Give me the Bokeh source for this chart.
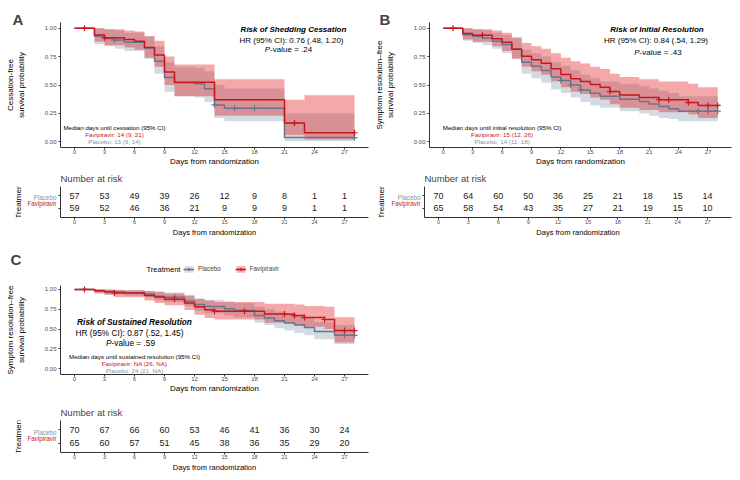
import math
from bokeh.plotting import figure
from bokeh.models import (ColumnDataSource, Range1d, FixedTicker, PrintfTickFormatter,
                          Label, Legend, LegendItem)
from bokeh.layouts import column, row
from bokeh.embed import file_html
from bokeh.resources import INLINE
from bokeh.core.properties import value

FONT = "Liberation Sans"
RED = "#c8161d"
RED_FILL = "#e31a1c"
PBO_LINE = "#66768a"
PBO_TEXT = "#8094a9"
PBO_FILL = "#8fa2b6"
AXIS_COL = "#333333"
TICK_TXT = "#4d4d4d"
NAN = float("nan")

# ---------------- data ----------------
DAY_TICKS = [0, 3, 6, 9, 12, 15, 18, 21, 24, 27]
SURV_TICKS = [0.0, 0.25, 0.50, 0.75, 1.0]
GROUPS = ["Placebo", "Favipiravir"]

# Panel A - shedding cessation
A_PBO_TIME = [0, 2, 3, 4, 5, 7, 8, 9, 10, 12, 13, 14, 15, 21, 28]
A_PBO_SURV = [1.0, 0.93, 0.91, 0.895, 0.877, 0.825, 0.71, 0.565, 0.52, 0.51, 0.467, 0.325, 0.295, 0.037, 0.037]
A_PBO_LOW = [1.0, 0.86, 0.84, 0.82, 0.80, 0.73, 0.60, 0.44, 0.40, 0.39, 0.35, 0.21, 0.18, 0.005, 0.005]
A_PBO_UPP = [1.0, 1.0, 0.99, 0.98, 0.96, 0.93, 0.84, 0.70, 0.66, 0.65, 0.62, 0.50, 0.47, 0.25, 0.25]
A_PBO_CENS = [4, 14, 16, 18, 28]
A_FAV_TIME = [0, 2, 3, 5, 6, 7, 8, 9, 10, 14, 21, 23, 28]
A_FAV_SURV = [1.0, 0.94, 0.915, 0.90, 0.885, 0.83, 0.765, 0.615, 0.525, 0.37, 0.165, 0.08, 0.08]
A_FAV_LOW = [1.0, 0.88, 0.85, 0.83, 0.81, 0.74, 0.66, 0.50, 0.40, 0.23, 0.06, 0.02, 0.02]
A_FAV_UPP = [1.0, 1.0, 0.99, 0.98, 0.97, 0.93, 0.89, 0.75, 0.68, 0.55, 0.37, 0.41, 0.41]
A_FAV_CENS = [1, 3, 22, 28]
A_RISK_PBO = [57, 53, 49, 39, 26, 12, 9, 8, 1, 1]
A_RISK_FAV = [59, 52, 46, 36, 21, 9, 9, 9, 1, 1]

# Panel B - initial resolution
B_PBO_TIME = [0, 2, 3, 4, 5, 6, 7, 8, 9, 10, 11, 12, 13, 14, 15, 16, 18, 20, 21, 22, 23, 24, 28]
B_PBO_SURV = [1.0, 0.943, 0.929, 0.914, 0.886, 0.857, 0.814, 0.70, 0.664, 0.628, 0.571, 0.54, 0.50, 0.457,
              0.428, 0.40, 0.375, 0.354, 0.333, 0.31, 0.29, 0.27, 0.27]
B_PBO_LOW = [1.0, 0.89, 0.87, 0.85, 0.82, 0.78, 0.73, 0.60, 0.56, 0.52, 0.46, 0.43, 0.39, 0.35,
             0.32, 0.30, 0.27, 0.25, 0.23, 0.21, 0.20, 0.18, 0.18]
B_PBO_UPP = [1.0, 1.0, 0.99, 0.98, 0.96, 0.94, 0.91, 0.81, 0.78, 0.75, 0.70, 0.67, 0.63, 0.59,
             0.56, 0.53, 0.51, 0.49, 0.47, 0.45, 0.43, 0.40, 0.40]
B_PBO_CENS = [12, 13, 14, 26, 27, 28]
B_FAV_TIME = [0, 2, 3, 5, 6, 7, 8, 9, 10, 11, 12, 13, 14, 15, 16, 17, 18, 20, 22, 25, 26, 28]
B_FAV_SURV = [1.0, 0.953, 0.938, 0.907, 0.876, 0.815, 0.754, 0.723, 0.692, 0.643, 0.593, 0.555, 0.531,
              0.505, 0.48, 0.442, 0.413, 0.39, 0.37, 0.345, 0.32, 0.32]
B_FAV_LOW = [1.0, 0.90, 0.88, 0.84, 0.80, 0.73, 0.66, 0.62, 0.59, 0.53, 0.48, 0.44, 0.42,
             0.39, 0.37, 0.33, 0.30, 0.28, 0.26, 0.24, 0.21, 0.21]
B_FAV_UPP = [1.0, 1.0, 0.99, 0.98, 0.96, 0.92, 0.87, 0.84, 0.82, 0.78, 0.74, 0.71, 0.69,
             0.66, 0.64, 0.60, 0.57, 0.55, 0.53, 0.51, 0.48, 0.48]
B_FAV_CENS = [1, 4, 17, 22, 23, 25, 27, 28]
B_RISK_PBO = [70, 64, 60, 50, 36, 25, 21, 18, 15, 14]
B_RISK_FAV = [65, 58, 54, 43, 35, 27, 21, 19, 15, 10]

# Panel C - sustained resolution
C_PBO_TIME = [0, 2, 3, 5, 7, 8, 9, 11, 12, 13, 15, 16, 18, 19, 20, 21, 22, 23, 24, 26, 28]
C_PBO_SURV = [1.0, 0.986, 0.971, 0.957, 0.943, 0.914, 0.90, 0.855, 0.81, 0.785, 0.755, 0.735, 0.67,
              0.64, 0.605, 0.575, 0.55, 0.52, 0.47, 0.42, 0.42]
C_PBO_LOW = [1.0, 0.96, 0.94, 0.92, 0.90, 0.86, 0.84, 0.79, 0.73, 0.70, 0.67, 0.65, 0.58,
             0.55, 0.51, 0.48, 0.45, 0.42, 0.37, 0.31, 0.31]
C_PBO_UPP = [1.0, 1.0, 1.0, 0.99, 0.98, 0.97, 0.96, 0.93, 0.89, 0.87, 0.85, 0.83, 0.78,
             0.75, 0.72, 0.69, 0.67, 0.64, 0.59, 0.55, 0.55]
C_PBO_CENS = [10, 27, 28]
C_FAV_TIME = [0, 2, 3, 4, 7, 8, 9, 11, 12, 13, 14, 19, 22, 23, 25, 26, 28]
C_FAV_SURV = [1.0, 0.985, 0.97, 0.955, 0.925, 0.905, 0.875, 0.83, 0.78, 0.745, 0.725, 0.69, 0.67,
              0.645, 0.62, 0.48, 0.48]
C_FAV_LOW = [1.0, 0.95, 0.93, 0.90, 0.86, 0.83, 0.80, 0.74, 0.68, 0.64, 0.62, 0.58, 0.55,
             0.53, 0.50, 0.33, 0.33]
C_FAV_UPP = [1.0, 1.0, 1.0, 0.99, 0.98, 0.97, 0.95, 0.92, 0.88, 0.86, 0.84, 0.82, 0.81,
             0.79, 0.78, 0.65, 0.65]
C_FAV_CENS = [1, 4, 10, 14, 17, 21, 22, 23, 25, 27, 28]
C_RISK_PBO = [70, 67, 66, 60, 53, 46, 41, 36, 30, 24]
C_RISK_FAV = [65, 60, 57, 51, 45, 38, 36, 35, 29, 20]

X_RANGE = (-1.4, 29.4)
S_RANGE = (-0.05, 1.05)
S_RANGE_C = (-0.075, 1.05)
ROW_RANGE = (0.3, 2.7)


def surv_at(times, surv, t):
    s = surv[0]
    for ti, si in zip(times, surv):
        if ti <= t:
            s = si
    return s


def common_axis(ax, tick_size, label_size):
    ax.axis_line_color = AXIS_COL
    ax.axis_line_width = 1
    ax.major_tick_line_color = AXIS_COL
    ax.major_tick_in = 0
    ax.major_tick_out = 2
    ax.minor_tick_line_color = None
    ax.major_label_text_font = FONT
    ax.major_label_text_font_size = f"{tick_size}px"
    ax.major_label_text_color = TICK_TXT
    ax.axis_label_text_font = FONT
    ax.axis_label_text_font_size = f"{label_size}px"
    ax.axis_label_text_font_style = "normal"
    ax.axis_label_text_color = "black"


def add_text(p, x, y, text, size, color="black", style="normal", align="center", x_off=0):
    p.add_layout(Label(x=x, y=y, text=text, text_font=FONT,
                       text_font_size=f"{size}px", text_color=color, text_font_style=style,
                       text_align=align, text_baseline="middle", x_offset=x_off))


def set_letter(p, letter, offset, standoff):
    p.title.text = letter
    p.title.text_font = FONT
    p.title.text_font_size = "15px"
    p.title.text_font_style = "bold"
    p.title.align = "left"
    p.title.offset = offset
    p.title.standoff = standoff


def bare_figure(width, height, xr, yr, **borders):
    opts = dict(min_border=0)
    opts.update(borders)
    p = figure(width=width, height=height, x_range=Range1d(*xr), y_range=Range1d(*yr),
               output_backend="svg", toolbar_location=None, x_axis_type=None, y_axis_type=None, **opts)
    p.grid.visible = False
    p.outline_line_color = None
    return p


def km_figure(width, height, bl, br, bt, bb, ylabel, pbo, fav, s_range=S_RANGE):
    p = figure(width=width, height=height, x_range=Range1d(*X_RANGE), y_range=Range1d(*s_range),
               output_backend="svg", toolbar_location=None, min_border_left=bl, min_border_right=br,
               min_border_top=bt, min_border_bottom=bb)
    p.grid.visible = False
    p.outline_line_color = None
    for d, fc, fa in ((pbo, PBO_FILL, 0.4), (fav, RED_FILL, 0.38)):
        src = ColumnDataSource(dict(t=d[0], lo=d[2], hi=d[3]))
        p.varea_step(x="t", y1="lo", y2="hi", step_mode="after", source=src, fill_color=fc, fill_alpha=fa)
    for d, lc in ((pbo, PBO_LINE), (fav, RED)):
        p.step(d[0], d[1], mode="after", line_color=lc, line_width=1.5)
        cy = [surv_at(d[0], d[1], c) for c in d[4]]
        p.scatter(d[4], cy, marker="cross", size=6, line_color=lc, line_width=1.2)
    xa = p.xaxis[0]
    common_axis(xa, 6, 8)
    xa.ticker = FixedTicker(ticks=DAY_TICKS)
    xa.axis_label = "Days from randomization"
    xa.major_label_standoff = 0
    xa.axis_label_standoff = 0
    ya = p.yaxis[0]
    common_axis(ya, 6, 8)
    ya.ticker = FixedTicker(ticks=SURV_TICKS)
    ya.formatter = PrintfTickFormatter(format="%.2f")
    ya.axis_label = ylabel
    ya.major_label_standoff = 2
    ya.axis_label_standoff = 16
    return p


def add_stats(p, title, hr, pval, pos, fs):
    (tx, ty), (hx, hy), (px, py) = pos
    add_text(p, tx, ty, title, fs, style="bold italic")
    add_text(p, hx, hy, hr, fs)
    w_total = 5.92 * fs
    w_p = 0.667 * fs
    add_text(p, px, py, "P", fs, style="italic", align="left", x_off=-w_total / 2)
    add_text(p, px, py, pval, fs, align="left", x_off=-w_total / 2 + w_p)


def add_median(p, x, ys, texts, fs=6.2):
    for y, t, c in zip(ys, texts, ["black", RED, PBO_TEXT]):
        add_text(p, x, y, t, fs, color=c)


def risk_table(label_w, width, height, br, bt, bb, treat_x, pbo_vals, fav_vals):
    fh = height - bt - bb
    per_unit = fh / (ROW_RANGE[1] - ROW_RANGE[0])
    lab = bare_figure(label_w, height, (0, label_w),
                      (ROW_RANGE[0] - bb / per_unit, ROW_RANGE[1] + bt / per_unit))
    lab.text(x=[label_w - 1, label_w - 1], y=[2, 1], text=GROUPS,
             text_color=[PBO_TEXT, RED], text_font=value(FONT), text_font_size=value("6.3px"),
             text_align="right", text_baseline="middle")
    lab.text(x=[treat_x], y=[1.5], text=["Treatment"], angle=math.pi / 2, text_color="black",
             text_font=value(FONT), text_font_size=value("8px"), text_align="center",
             text_baseline="middle")

    p = figure(width=width - label_w, height=height, x_range=Range1d(*X_RANGE), y_range=Range1d(*ROW_RANGE),
               output_backend="svg", toolbar_location=None, min_border_left=3, min_border_right=br,
               min_border_top=bt, min_border_bottom=bb)
    p.grid.visible = False
    p.outline_line_color = None
    p.title.text = "Number at risk"
    p.title.text_font = FONT
    p.title.text_font_size = "9.5px"
    p.title.text_font_style = "normal"
    p.title.align = "left"
    p.title.vertical_align = "middle"
    p.title.standoff = 3
    p.title.offset = 0
    src = ColumnDataSource(dict(x=DAY_TICKS + DAY_TICKS, y=[2] * len(DAY_TICKS) + [1] * len(DAY_TICKS),
                                n=[str(v) for v in pbo_vals + fav_vals]))
    p.text(x="x", y="y", text="n", source=src, text_font=value(FONT), text_font_size=value("9px"),
           text_align="center", text_baseline="middle", text_color="#1a1a1a")
    xa = p.xaxis[0]
    common_axis(xa, 5.5, 7.5)
    xa.ticker = FixedTicker(ticks=DAY_TICKS)
    xa.axis_label = "Days from randomization"
    xa.major_label_standoff = 0
    xa.axis_label_standoff = 1
    ya = p.yaxis[0]
    common_axis(ya, 6, 8)
    ya.ticker = FixedTicker(ticks=[1, 2])
    ya.major_label_overrides = {1: "", 2: ""}
    ya.major_label_standoff = 0
    return row(lab, p)


# ---------------- panel A ----------------
pA = km_figure(372, 170, 60, 4, 22, 23, "Cessation-free\nsurvival probability",
               (A_PBO_TIME, A_PBO_SURV, A_PBO_LOW, A_PBO_UPP, A_PBO_CENS),
               (A_FAV_TIME, A_FAV_SURV, A_FAV_LOW, A_FAV_UPP, A_FAV_CENS))
add_stats(pA, "Risk of Shedding Cessation", "HR (95% CI): 0.76 (.48, 1.20)", "-value = .24",
          ((21.9, 0.985), (21.7, 0.894), (21.4, 0.81)), 8)
add_median(pA, 4.0, [0.124, 0.066, 0.004],
           ["Median days until cessation (95% CI)", "Favipiravir: 14 (9, 21)", "Placebo: 13 (9, 14)"])
set_letter(pA, "A", -48, -10)

# ---------------- panel B ----------------
pB = km_figure(368, 170, 52, 9, 22, 23, "Symptom resolution\u2013free\nsurvival probability",
               (B_PBO_TIME, B_PBO_SURV, B_PBO_LOW, B_PBO_UPP, B_PBO_CENS),
               (B_FAV_TIME, B_FAV_SURV, B_FAV_LOW, B_FAV_UPP, B_FAV_CENS))
add_stats(pB, "Risk of Initial Resolution", "HR (95% CI): 0.84 (.54, 1.29)", "-value = .43",
          ((21.8, 0.985), (21.7, 0.89), (21.9, 0.785)), 8)
add_median(pB, 6.0, [0.127, 0.062, 0.003],
           ["Median days until initial resolution (95% CI)", "Favipiravir: 15 (12, 26)", "Placebo: 14 (11, 18)"])
set_letter(pB, "B", -50, -10)

# ---------------- header of panel C: letter and legend ----------------
# frame spans page x 60..368 and page y 262..281 (y axis flipped so units are pixels)
hC = bare_figure(372, 41, (60, 368), (41, 22), min_border_left=60, min_border_right=4,
                 min_border_top=22, min_border_bottom=0)
set_letter(hC, "C", -50, -11)
hC.text(x=[146], y=[28.5], text=["Treatment"], text_font=value(FONT), text_font_size=value("7.5px"),
        text_align="left", text_baseline="middle", text_color="black")
items = []
for g, lc, fc, fa in ((GROUPS[0], PBO_LINE, PBO_FILL, 0.4), (GROUPS[1], RED, RED_FILL, 0.38)):
    kb = hC.quad(left=[NAN], right=[NAN], top=[NAN], bottom=[NAN], fill_color=fc, fill_alpha=fa, line_alpha=0)
    kl = hC.line(x=[NAN], y=[NAN], line_color=lc, line_width=1.5)
    km = hC.scatter(x=[NAN], y=[NAN], marker="cross", size=6, line_color=lc, line_width=1.2)
    items.append(LegendItem(label=g, renderers=[kb, kl, km]))
legend = Legend(items=items, location=(123, 8.5), orientation="horizontal", glyph_width=11,
                glyph_height=8, label_height=8, label_standoff=4, spacing=14, padding=0, margin=0,
                label_text_font=FONT, label_text_font_size="6.3px",
                border_line_alpha=0, background_fill_alpha=0)
hC.add_layout(legend)

# ---------------- panel C ----------------
pC = km_figure(372, 121, 60, 4, 4, 28, "Symptom resolution\u2013free\nsurvival probability",
               (C_PBO_TIME, C_PBO_SURV, C_PBO_LOW, C_PBO_UPP, C_PBO_CENS),
               (C_FAV_TIME, C_FAV_SURV, C_FAV_LOW, C_FAV_UPP, C_FAV_CENS), s_range=S_RANGE_C)
add_stats(pC, "Risk of Sustained Resolution", "HR (95% CI): 0.87 (.52, 1.45)", "-value = .59",
          ((6.0, 0.584), (5.5, 0.446), (5.6, 0.327)), 8.3)
add_median(pC, 6.0, [0.148, 0.06, -0.028],
           ["Median days until sustained resolution (95% CI)", "Favipiravir: NA (26, NA)", "Placebo: 24 (21, NA)"])

# ---------------- risk tables ----------------
tA = risk_table(57, 372, 70, 4, 16, 23, 17.5, A_RISK_PBO, A_RISK_FAV)
tB = risk_table(49, 368, 70, 9, 16, 23, 8.5, B_RISK_PBO, B_RISK_FAV)
tC = risk_table(57, 372, 72, 4, 18, 22, 17.5, C_RISK_PBO, C_RISK_FAV)

layout = column(row(pA, pB), row(tA, tB), hC, pC, tC)
open("out.html", "w").write(file_html(layout, INLINE))
